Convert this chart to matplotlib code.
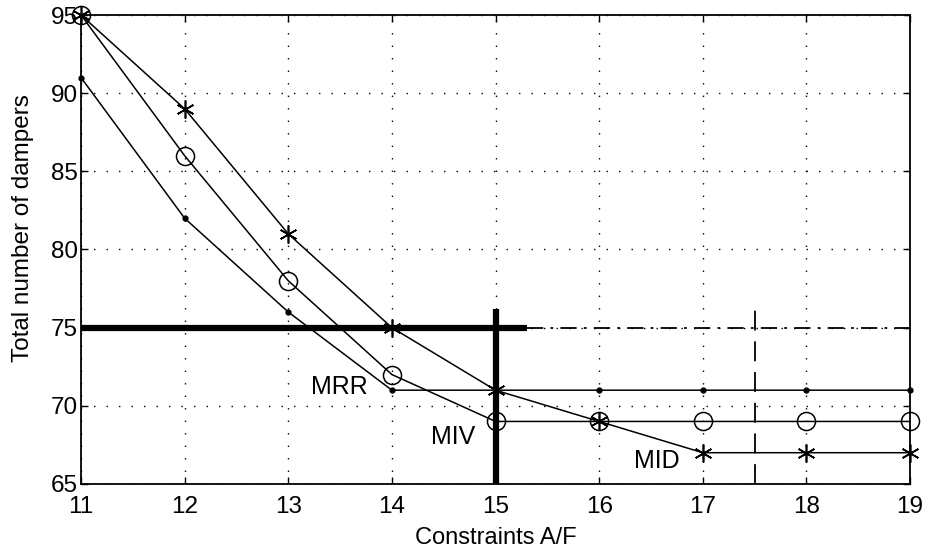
import matplotlib
matplotlib.use("Agg")
import matplotlib.pyplot as plt

plt.rcParams['font.family'] = ['Liberation Sans', 'DejaVu Sans']

# Constraint values A/F
af = [11, 12, 13, 14, 15, 16, 17, 18, 19]
# Total number of dampers per strategy
mrr = [91, 82, 76, 71, 71, 71, 71, 71, 71]
miv = [95, 86, 78, 72, 69, 69, 69, 69, 69]
mid = [95, 89, 81, 75, 71, 69, 67, 67, 67]

# Reference limits
damper_limit = 75
af_limit = 15
af_limit_alt = 17.5

fig = plt.figure(figsize=(9.29, 5.54), dpi=100)
ax = fig.add_axes([0.0872, 0.1264, 0.8924, 0.8465])

ax.plot(af, mrr, color='black', lw=1.1, marker='o', ms=3.5, mfc='black', mec='black',
        clip_on=False, zorder=3)
ax.plot(af, miv, color='black', lw=1.1, marker='o', ms=13, mfc='none', mec='black', mew=1.1,
        clip_on=False, zorder=3)
ax.plot(af, mid, color='black', lw=1.1, marker=(6, 2, 0), ms=13, mec='black', mew=1.2,
        clip_on=False, zorder=3)

# limit lines
ax.plot([11, 15.3], [damper_limit, damper_limit], color='black', lw=4.5, solid_capstyle='butt')
ax.plot([15.3, 19], [damper_limit, damper_limit], color='black', lw=1.3,
        linestyle=(0, (9, 4, 1.5, 4)))
ax.plot([af_limit, af_limit], [65, 76.2], color='black', lw=4.5, solid_capstyle='butt',
        clip_on=False)
ax.plot([af_limit_alt, af_limit_alt], [65, 76.3], color='black', lw=1.3,
        linestyle=(0, (11, 6)))

ax.text(13.77, 71.2, 'MRR', ha='right', va='center', fontsize=18)
ax.text(14.8, 68.0, 'MIV', ha='right', va='center', fontsize=18)
ax.text(16.78, 66.5, 'MID', ha='right', va='center', fontsize=18)

ax.set_xlim(11, 19)
ax.set_ylim(65, 95)
ax.set_xticks(af)
ax.set_yticks(range(65, 96, 5))
ax.grid(True, color='black', linestyle=(0, (1, 8)), lw=1.0)
ax.tick_params(direction='in', length=5, width=1, top=True, right=True,
               labelsize=17.5)
ax.tick_params(axis='x', pad=9)
ax.tick_params(axis='y', pad=2)
for s in ax.spines.values():
    s.set_linewidth(1.3)

ax.set_xlabel('Constraints A/F', fontsize=17, labelpad=6)
ax.set_ylabel('Total number of dampers', fontsize=17.5)
ax.yaxis.set_label_coords(-0.057, 0.545)

fig.savefig('out.png', dpi=100)
